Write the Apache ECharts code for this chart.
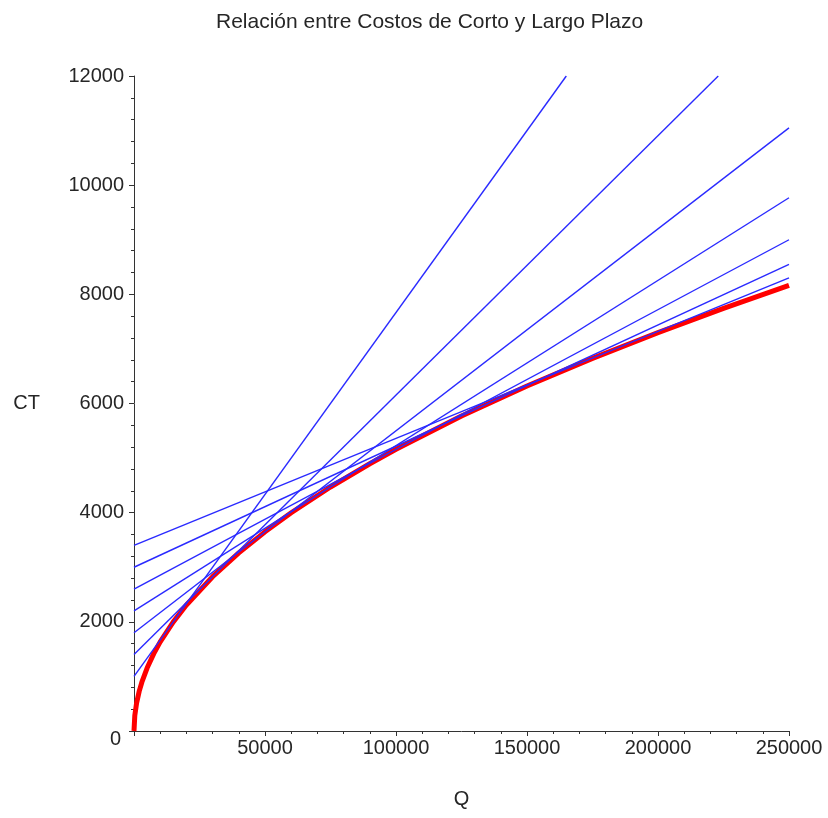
<!DOCTYPE html>
<html>
<head>
<meta charset="utf-8">
<script src="https://cdn.jsdelivr.net/npm/echarts@6/dist/echarts.min.js"></script>
<style>
  html, body { margin: 0; padding: 0; background: #fff; }
  #chart { width: 828px; height: 818px; }
</style>
</head>
<body>
<div id="chart"></div>
<script>
// curva de largo plazo
const qLargo = [0, 300, 1000, 2000, 3000, 5000, 7500, 10000, 15000, 20000, 30000, 40000, 50000,
  60000, 75000, 90000, 100000, 125000, 150000, 175000, 200000, 225000, 250000]
const ctLargo = [0, 280, 516, 730, 894, 1154, 1413, 1632, 1999, 2308, 2827, 3264, 3649,
  3998, 4470, 4896, 5161, 5770, 6321, 6827, 7299, 7741, 8165]

// rectas de corto plazo: punto inicial (Q = 0) y punto final
const cortoInicio = [1000, 1400, 1800, 2200, 2600, 3000, 3400]
const cortoFinQ = [165000, 223000, 250000, 250000, 250000, 250000, 250000]
const cortoFinCT = [12000, 12000, 11050, 9770, 9000, 8550, 8300]

const ticksX = [0, 50000, 100000, 150000, 200000, 250000]
const ticksY = [0, 2000, 4000, 6000, 8000, 10000, 12000]

var myChart = echarts.init(document.getElementById('chart'))

const fuente = 'Liberation Sans, Arial, sans-serif'
const gris = '#262626'

var series = [{
  name: 'Largo plazo',
  type: 'line',
  symbol: 'none',
  smooth: false,
  lineStyle: { color: '#ff0000', width: 5 },
  data: qLargo.map((q, i) => [q, ctLargo[i]]),
  z: 2
}]
cortoInicio.forEach((b, i) => {
  series.push({
    name: 'Corto plazo ' + (i + 1),
    type: 'line',
    symbol: 'none',
    lineStyle: { color: '#2a2aff', width: 1.4 },
    data: [[0, b], [cortoFinQ[i], cortoFinCT[i]]],
    z: 3
  })
})

const option = {
  backgroundColor: '#ffffff',
  animation: false,
  title: {
    text: 'Relación entre Costos de Corto y Largo Plazo',
    left: 211,
    top: 7,
    textStyle: { fontFamily: fuente, fontSize: 21, fontWeight: 'normal', color: gris }
  },
  grid: { left: 134, right: 39, top: 76, bottom: 87 },
  xAxis: {
    type: 'value',
    min: ticksX[0],
    max: ticksX[ticksX.length - 1],
    interval: ticksX[1] - ticksX[0],
    name: 'Q',
    nameLocation: 'middle',
    nameGap: 58,
    nameTextStyle: { fontFamily: fuente, fontSize: 20, color: gris },
    axisLine: { show: true, onZero: false, lineStyle: { color: '#333', width: 1 } },
    axisTick: { show: true, inside: false, length: 5, lineStyle: { color: '#333' } },
    minorTick: { show: true, splitNumber: 5, length: 3, lineStyle: { color: '#333' } },
    splitLine: { show: false },
    axisLabel: {
      showMinLabel: false,
      margin: 7,
      fontFamily: fuente,
      fontSize: 20,
      color: gris,
      formatter: v => String(v)
    }
  },
  yAxis: {
    type: 'value',
    min: ticksY[0],
    max: ticksY[ticksY.length - 1],
    interval: ticksY[1] - ticksY[0],
    name: 'CT',
    nameLocation: 'middle',
    nameRotate: 0,
    nameGap: 94,
    nameTextStyle: { fontFamily: fuente, fontSize: 20, color: gris },
    axisLine: { show: true, onZero: false, lineStyle: { color: '#333', width: 1 } },
    axisTick: { show: true, inside: false, length: 5, lineStyle: { color: '#333' } },
    minorTick: { show: true, splitNumber: 5, length: 3, lineStyle: { color: '#333' } },
    splitLine: { show: false },
    axisLabel: {
      margin: 10,
      fontFamily: fuente,
      fontSize: 20,
      color: gris,
      formatter: v => v === 0 ? '{cero|0}' : String(v),
      rich: {
        cero: { fontFamily: fuente, fontSize: 20, color: gris, padding: [16, 3, 0, 0] }
      }
    }
  },
  series: series
}
myChart.setOption(option)
</script>
</body>
</html>
